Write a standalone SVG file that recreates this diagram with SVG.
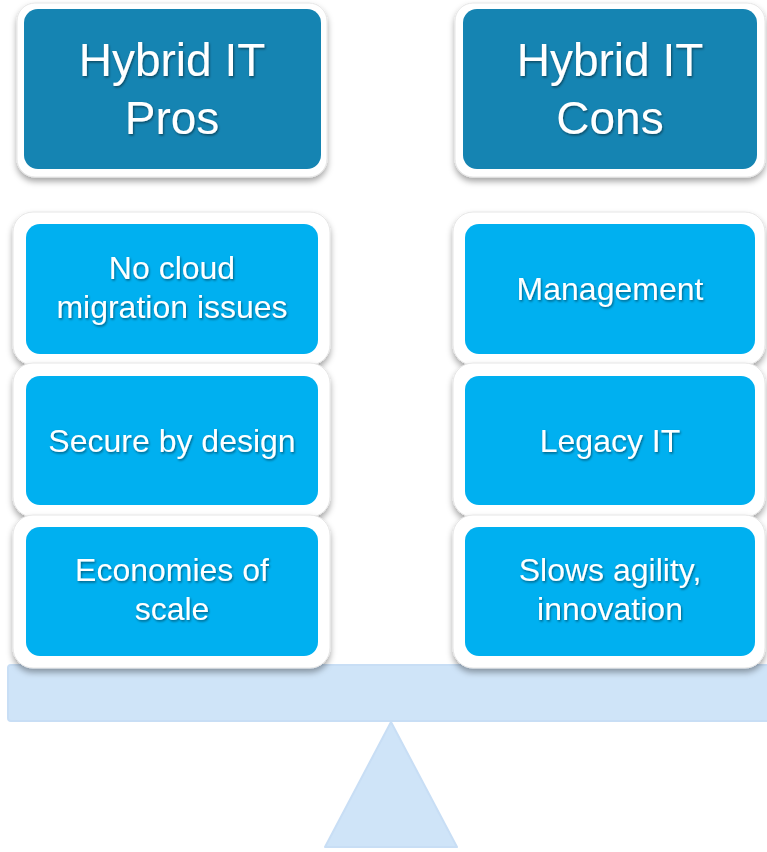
<svg xmlns="http://www.w3.org/2000/svg" width="767" height="852" viewBox="0 0 767 852">
<defs>
<filter id="sh" x="-10%" y="-10%" width="120%" height="130%"><feDropShadow dx="0" dy="4" stdDeviation="3" flood-color="#000" flood-opacity="0.35"/></filter>
<filter id="ts" x="-5%" y="-20%" width="110%" height="150%"><feDropShadow dx="1" dy="1.5" stdDeviation="1" flood-color="#000" flood-opacity="0.45"/></filter>
</defs>
<style>
.frame{fill:#fff;stroke:#e6e6e6;stroke-width:1;filter:url(#sh)}
.hdr{fill:#1584b2}
.item{fill:#00b0f0}
.ht{font-family:"Liberation Sans",Arial,sans-serif;font-size:46px;fill:#fff;text-anchor:middle;filter:url(#ts)}
.it{font-family:"Liberation Sans",Arial,sans-serif;font-size:32px;fill:#fff;text-anchor:middle;filter:url(#ts)}
.base{fill:#cfe4f8;stroke:#c8def5;stroke-width:2;stroke-linejoin:round}
</style>
<g id="scale">
<rect class="base" x="8" y="665" width="770" height="56" rx="3"/>
<polygon class="base" points="391,722 457,847 325,847"/>
</g>
<g id="pros-header">
<rect class="frame" x="17" y="3" width="310" height="174" rx="18"/>
<rect class="hdr" x="24" y="9" width="297" height="160" rx="14"/>
<text class="ht" x="172" y="76">Hybrid IT</text>
<text class="ht" x="172" y="134">Pros</text>
</g>
<g id="cons-header">
<rect class="frame" x="455" y="3" width="310" height="174" rx="18"/>
<rect class="hdr" x="463" y="9" width="294" height="160" rx="14"/>
<text class="ht" x="610" y="76">Hybrid IT</text>
<text class="ht" x="610" y="134">Cons</text>
</g>
<g id="pro-1">
<rect class="frame" x="13" y="212" width="317" height="153" rx="20"/>
<rect class="item" x="26" y="224" width="292" height="130" rx="14"/>
<text class="it" x="172" y="279">No cloud</text>
<text class="it" x="172" y="318">migration issues</text>
</g>
<g id="pro-2">
<rect class="frame" x="13" y="363" width="317" height="154" rx="20"/>
<rect class="item" x="26" y="376" width="292" height="129" rx="14"/>
<text class="it" x="172" y="452">Secure by design</text>
</g>
<g id="pro-3">
<rect class="frame" x="13" y="515" width="317" height="153" rx="20"/>
<rect class="item" x="26" y="527" width="292" height="129" rx="14"/>
<text class="it" x="172" y="581">Economies of</text>
<text class="it" x="172" y="620">scale</text>
</g>
<g id="con-1">
<rect class="frame" x="453" y="212" width="312" height="153" rx="20"/>
<rect class="item" x="465" y="224" width="290" height="130" rx="14"/>
<text class="it" x="610" y="300">Management</text>
</g>
<g id="con-2">
<rect class="frame" x="453" y="363" width="312" height="154" rx="20"/>
<rect class="item" x="465" y="376" width="290" height="129" rx="14"/>
<text class="it" x="610" y="452">Legacy IT</text>
</g>
<g id="con-3">
<rect class="frame" x="453" y="515" width="312" height="153" rx="20"/>
<rect class="item" x="465" y="527" width="290" height="129" rx="14"/>
<text class="it" x="610" y="581">Slows agility,</text>
<text class="it" x="610" y="620">innovation</text>
</g>
<g id="connectors"></g>
</svg>
